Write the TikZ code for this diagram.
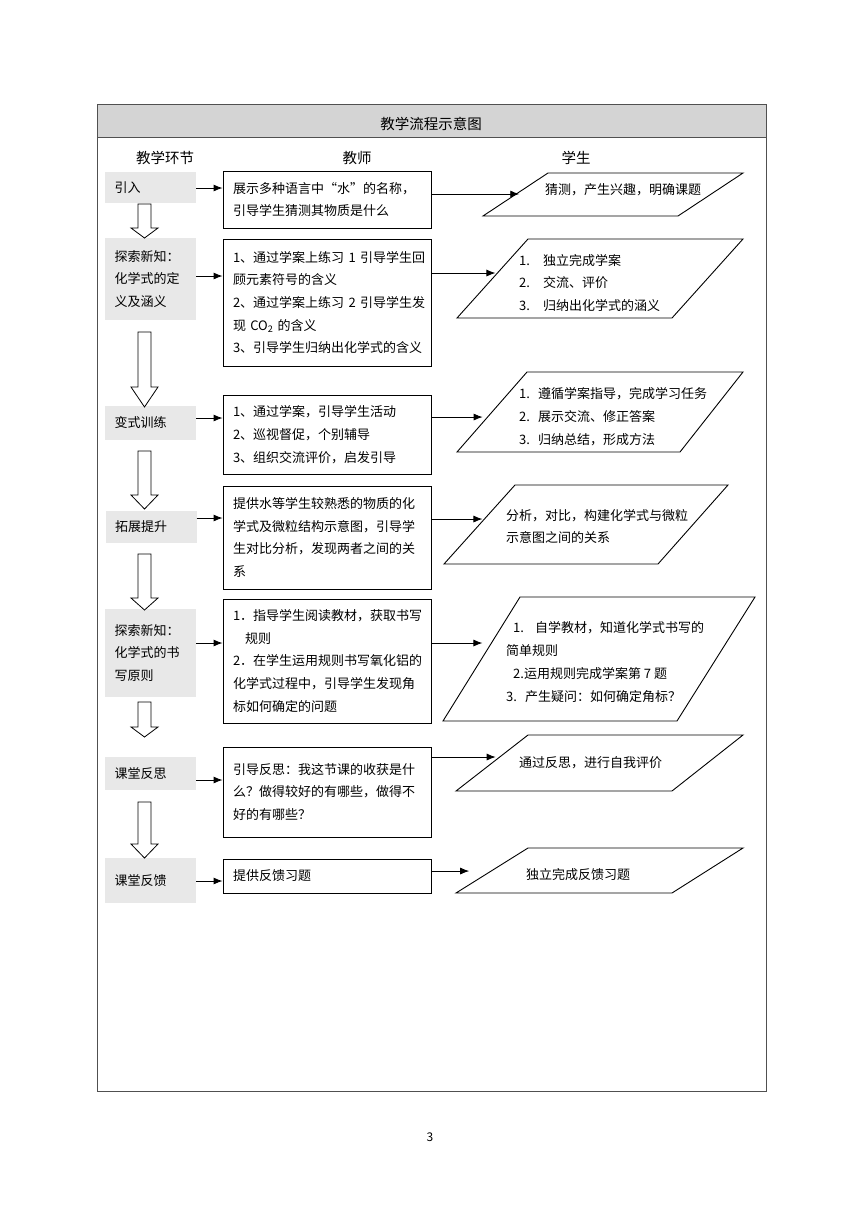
\documentclass[tikz,border=0pt]{standalone}
\usepackage{fontspec}
\setmainfont{Noto Sans CJK SC}
\usetikzlibrary{arrows.meta}
\definecolor{hdrgray}{RGB}{212,212,212}
\definecolor{lgray}{RGB}{232,232,232}
\definecolor{framegray}{RGB}{80,80,80}
\hbadness=10000 \hfuzz=50pt
\tikzset{
  txt/.style={font=\fontsize{13pt}{22.7pt}\selectfont},
  lbox/.style={txt, fill=lgray, minimum width=91pt, text width=72pt, align=left, inner xsep=0pt, inner ysep=0pt},
  tbox/.style={txt, draw=black, line width=0.9pt, minimum width=208pt, text width=188pt, align=left, inner xsep=10pt, inner ysep=0pt},
  stext/.style={txt, anchor=west, align=left, inner sep=0pt},
  para/.style={draw=black, line width=0.9pt},
  arr/.style={line width=0.9pt, -{Latex[length=9pt,width=7pt]}},
  hollow/.style={draw=black, line width=0.8pt, fill=white},
  hdr/.style={font=\fontsize{14.5pt}{17pt}\selectfont, inner sep=0pt}
}
\newcommand{\hollowdown}[4]{% name, ytop, yhead, ytip
  \draw[hollow] (138,#2) -- (151,#2) -- (151,#3) -- (158,#3) -- (144.5,#4) -- (131,#3) -- (138,#3) -- cycle;
}
\begin{document}
\begin{tikzpicture}[x=1pt,y=-1pt]
\useasboundingbox (0,0) rectangle (860,1216);
% frame and header
\fill[hdrgray] (97,104) rectangle (766,137);
\draw[framegray, line width=0.9pt] (97,104) rectangle (766,1091);
\draw[framegray, line width=0.9pt] (97,137) -- (766,137);
\node[hdr] (title) at (431,124) {教学流程示意图};
\node[hdr] (h1) at (165,158) {教学环节};
\node[hdr] (h2) at (357,158) {教师};
\node[hdr] (h3) at (576,158) {学生};

% left column boxes
\node[lbox, minimum height=31pt] (L1) at (150.5,187.5) {引入};
\node[lbox, minimum height=82pt] (L2) at (150.5,279) {探索新知：\\化学式的定\\义及涵义};
\node[lbox, minimum height=34pt] (L3) at (150.5,423) {变式训练};
\node[lbox, minimum height=32pt] (L4) at (151,527) {拓展提升};
\node[lbox, minimum height=88pt] (L5) at (150.5,653) {探索新知：\\化学式的书\\写原则};
\node[lbox, minimum height=33pt] (L6) at (150.5,773.5) {课堂反思};
\node[lbox, minimum height=45pt] (L7) at (150.5,880.5) {课堂反馈\par\vspace{11pt}};

% hollow down arrows
\hollowdown{a1}{204}{228}{238}
\hollowdown{a2}{332}{387}{407}
\hollowdown{a3}{451}{495}{509}
\hollowdown{a4}{554}{598}{610}
\hollowdown{a5}{702}{727}{737}
\hollowdown{a6}{802}{844}{858}

% teacher boxes
\node[tbox, minimum height=57pt] (T1) at (327,199.5) {展示多种语言中“水”的名称，\\引导学生猜测其物质是什么};
\node[tbox, minimum height=127pt] (T2) at (327,302.5) {1、通过学案上练习~1~引导学生回\\顾元素符号的含义\\2、通过学案上练习~2~引导学生发\\现~CO\textsubscript{2}~的含义\\3、引导学生归纳出化学式的含义};
\node[tbox, minimum height=79pt] (T3) at (327,434.5) {1、通过学案，引导学生活动\\2、巡视督促，个别辅导\\3、组织交流评价，启发引导};
\node[tbox, minimum height=103pt] (T4) at (327,537.5) {提供水等学生较熟悉的物质的化\\学式及微粒结构示意图，引导学\\生对比分析，发现两者之间的关\\系};
\node[tbox, minimum height=124pt] (T5) at (327,661) {1．指导学生阅读教材，获取书写\\\hspace*{12pt}规则\\2．在学生运用规则书写氧化铝的\\化学式过程中，引导学生发现角\\标如何确定的问题};
\node[tbox, minimum height=90pt] (T6) at (327,792) {引导反思：我这节课的收获是什\\么？做得较好的有哪些，做得不\\好的有哪些？\par\vspace{10pt}};
\node[tbox, minimum height=34pt] (T7) at (327,876) {提供反馈习题};

% student parallelograms
\draw[para] (483,216) coordinate (s1bl) -- (548,173) coordinate (s1tl) -- (743,173) -- (678,216) -- cycle;
\draw[para] (457,318) coordinate (s2bl) -- (528,239) coordinate (s2tl) -- (743,239) -- (672,318) -- cycle;
\draw[para] (457,452) coordinate (s3bl) -- (527,372) coordinate (s3tl) -- (743,372) -- (680,452) -- cycle;
\draw[para] (444,564) coordinate (s4bl) -- (515,485) coordinate (s4tl) -- (728,485) -- (658,564) -- cycle;
\draw[para] (443,721) coordinate (s5bl) -- (520,597) coordinate (s5tl) -- (755,597) -- (677,721) -- cycle;
\draw[para] (456,791) coordinate (s6bl) -- (528,735) coordinate (s6tl) -- (743,735) -- (672,791) -- cycle;
\draw[para] (456,893) coordinate (s7bl) -- (528,848) coordinate (s7tl) -- (743,848) -- (672,893) -- cycle;

\node[stext] (S1) at (545,190) {猜测，产生兴趣，明确课题};
\node[stext] (S2) at (519,283) {\makebox[24pt][l]{1.}独立完成学案\\\makebox[24pt][l]{2.}交流、评价\\\makebox[24pt][l]{3.}归纳出化学式的涵义};
\node[stext] (S3) at (519,416.5) {\makebox[19pt][l]{1.}遵循学案指导，完成学习任务\\\makebox[19pt][l]{2.}展示交流、修正答案\\\makebox[19pt][l]{3.}归纳总结，形成方法};
\node[stext] (S4) at (506,526.5) {分析，对比，构建化学式与微粒\\示意图之间的关系};
\node[stext] (S5) at (506,662) {\hspace*{7pt}\makebox[22pt][l]{1.}自学教材，知道化学式书写的\\简单规则\\\hspace*{7pt}2.运用规则完成学案第~7~题\\\makebox[19pt][l]{3.}产生疑问：如何确定角标？};
\node[stext] (S6) at (519,763) {通过反思，进行自我评价};
\node[stext] (S7) at (526,875) {独立完成反馈习题};

% arrow end points on parallelogram edges
\coordinate (e1) at (intersection of s1bl--s1tl and 0,194--860,194);
\coordinate (e2) at (intersection of s2bl--s2tl and 0,273--860,273);
\coordinate (e3) at (intersection of s3bl--s3tl and 0,417--860,417);
\coordinate (e4) at (intersection of s4bl--s4tl and 0,519--860,519);
\coordinate (e5) at (intersection of s5bl--s5tl and 0,643--860,643);
\coordinate (e6) at (intersection of s6bl--s6tl and 0,757--860,757);
\coordinate (e7) at (intersection of s7bl--s7tl and 0,871--860,871);

% left -> teacher arrows
\draw[arr] (L1.east |- 0,188) -- (T1.west |- 0,188);
\draw[arr] (L2.east |- 0,276) -- (T2.west |- 0,276);
\draw[arr] (L3.east |- 0,418) -- (T3.west |- 0,418);
\draw[arr] (L4.east |- 0,518) -- (T4.west |- 0,518);
\draw[arr] (L5.east |- 0,643) -- (T5.west |- 0,643);
\draw[arr] (L6.east |- 0,780) -- (T6.west |- 0,780);
\draw[arr] (L7.east |- 0,881) -- (T7.west |- 0,881);

% teacher -> student arrows
\draw[arr, shorten >=-3pt] (T1.east |- e1) -- (e1);
\draw[arr, shorten >=2pt] (T2.east |- e2) -- (e2);
\draw[arr, shorten >=5pt] (T3.east |- e3) -- (e3);
\draw[arr, shorten >=2pt] (T4.east |- e4) -- (e4);
\draw[arr, shorten >=9pt] (T5.east |- e5) -- (e5);
\draw[arr, shorten >=4pt] (T6.east |- e6) -- (e6);
\draw[arr, shorten >=22pt] (T7.east |- e7) -- (e7);

% page number
\node[font=\fontsize{12pt}{14pt}\selectfont, inner sep=0pt] (pg) at (430,1137) {3};
\end{tikzpicture}
\end{document}
